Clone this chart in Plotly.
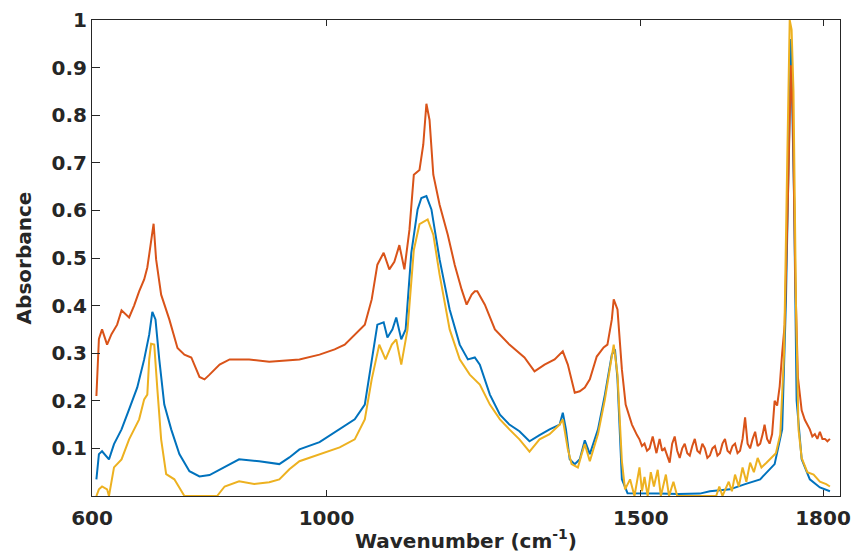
import plotly.graph_objects as go

# ---- data (wavenumber cm^-1, absorbance) ----
red_x = [634, 638, 643, 651, 658, 667, 674, 686, 694, 702, 710, 715, 718, 723, 725, 729, 737, 750, 763, 774,
         785, 798, 806, 814, 830, 846, 877, 909, 941, 957, 989, 1013, 1029, 1045, 1061, 1072, 1081, 1091, 1100,
         1108, 1116, 1124, 1132, 1139, 1148, 1154, 1159, 1164, 1170, 1180, 1193, 1204, 1215, 1223, 1231, 1236,
         1240, 1252, 1268, 1291, 1315, 1331, 1347, 1363, 1376, 1384, 1395, 1403, 1411, 1419, 1430, 1441, 1447,
         1454, 1457, 1463, 1470, 1476, 1486, 1494, 1498, 1502, 1506, 1510, 1514, 1519, 1525, 1530, 1534, 1538,
         1542, 1546, 1550, 1554, 1558, 1562, 1566, 1570, 1574, 1578, 1582, 1586, 1590, 1594, 1598, 1602, 1606,
         1610, 1614, 1618, 1622, 1626, 1630, 1634, 1638, 1642, 1646, 1650, 1654, 1658, 1662, 1666, 1670, 1674,
         1678, 1682, 1686, 1690, 1694, 1697, 1701, 1705, 1709, 1713, 1717, 1721, 1725, 1729, 1734, 1739, 1742,
         1746, 1750, 1756, 1761, 1765, 1769, 1773, 1777, 1781, 1785, 1789, 1793, 1797, 1801]
red_y = [0.21, 0.33, 0.35, 0.318, 0.34, 0.36, 0.39, 0.375, 0.40, 0.43, 0.455, 0.48, 0.507, 0.55, 0.572, 0.497,
         0.423, 0.371, 0.311, 0.297, 0.291, 0.25, 0.245, 0.255, 0.276, 0.287, 0.287, 0.282, 0.285, 0.287, 0.297,
         0.308, 0.318, 0.339, 0.36, 0.413, 0.486, 0.511, 0.476, 0.492, 0.527, 0.476, 0.559, 0.675, 0.685, 0.738,
         0.824, 0.79, 0.675, 0.612, 0.549, 0.486, 0.434, 0.402, 0.423, 0.43, 0.43, 0.402, 0.35, 0.318, 0.291,
         0.262, 0.276, 0.287, 0.304, 0.276, 0.217, 0.22, 0.228, 0.245, 0.293, 0.312, 0.318, 0.371, 0.413, 0.392,
         0.266, 0.192, 0.15, 0.128, 0.119, 0.105, 0.11, 0.095, 0.10, 0.125, 0.09, 0.12, 0.095, 0.10,
         0.085, 0.07, 0.11, 0.125, 0.095, 0.08, 0.10, 0.11, 0.09, 0.085, 0.105, 0.12, 0.095, 0.09, 0.11,
         0.10, 0.08, 0.085, 0.10, 0.105, 0.085, 0.09, 0.11, 0.12, 0.095, 0.09, 0.105, 0.11, 0.09, 0.095,
         0.12, 0.165, 0.11, 0.10, 0.12, 0.135, 0.105, 0.11, 0.13, 0.15, 0.12, 0.11, 0.13, 0.20, 0.19,
         0.23, 0.30, 0.36, 0.62, 0.905, 0.80, 0.45, 0.25, 0.18, 0.16, 0.15, 0.14, 0.125, 0.13, 0.12, 0.135,
         0.12, 0.12, 0.115, 0.12]

blue_x = [634, 638, 643, 654, 662, 674, 686, 699, 710, 718, 723, 728, 734, 742, 753, 766, 782, 798, 814, 838,
          861, 893, 925, 941, 957, 989, 1021, 1045, 1061, 1072, 1081, 1091, 1097, 1105, 1111, 1119, 1126, 1135,
          1145, 1151, 1159, 1167, 1180, 1196, 1212, 1225, 1236, 1244, 1260, 1276, 1291, 1307, 1323, 1339, 1355,
          1371, 1376, 1381, 1387, 1395, 1403, 1411, 1419, 1432, 1443, 1454, 1459, 1463, 1467, 1470, 1479, 1498,
          1530, 1560, 1594, 1610, 1642, 1666, 1690, 1713, 1725, 1731, 1736, 1739, 1744, 1748, 1756, 1769, 1785,
          1801]
blue_y = [0.035, 0.088, 0.094, 0.077, 0.109, 0.14, 0.182, 0.228, 0.287, 0.339, 0.387, 0.371, 0.287, 0.192,
          0.14, 0.088, 0.052, 0.041, 0.044, 0.06, 0.077, 0.073, 0.067, 0.081, 0.098, 0.113, 0.14, 0.161, 0.192,
          0.287, 0.36, 0.365, 0.333, 0.35, 0.375, 0.329, 0.35, 0.511, 0.602, 0.626, 0.63, 0.602, 0.497, 0.392,
          0.318, 0.287, 0.291, 0.276, 0.213, 0.171, 0.15, 0.136, 0.115, 0.128, 0.14, 0.15, 0.175, 0.14, 0.077,
          0.067, 0.077, 0.117, 0.088, 0.14, 0.213, 0.297, 0.308, 0.245, 0.119, 0.035, 0.006, 0.006, 0.005,
          0.004, 0.005, 0.01, 0.014, 0.025, 0.035, 0.067, 0.14, 0.41, 0.79, 0.96, 0.62, 0.2, 0.077, 0.035,
          0.018, 0.01]

yellow_x = [634, 638, 643, 651, 654, 662, 674, 686, 702, 710, 715, 718, 721, 726, 731, 737, 745, 758, 774, 826,
            838, 861, 885, 909, 925, 941, 957, 989, 1021, 1045, 1061, 1072, 1084, 1094, 1104, 1111, 1119, 1129,
            1139, 1148, 1161, 1170, 1180, 1196, 1212, 1228, 1244, 1260, 1276, 1291, 1307, 1323, 1339, 1355, 1371,
            1376, 1384, 1390, 1400, 1406, 1411, 1419, 1432, 1443, 1454, 1457, 1463, 1470, 1475, 1483, 1490, 1498,
            1502, 1506, 1511, 1516, 1521, 1527, 1532, 1540, 1545, 1552, 1558, 1570, 1600, 1620, 1625, 1630, 1640,
            1645, 1650, 1656, 1662, 1668, 1674, 1680, 1686, 1692, 1700, 1708, 1715, 1722, 1728, 1733, 1737, 1740,
            1743, 1747, 1751, 1756, 1765, 1775, 1785, 1795, 1801]
yellow_y = [0.0, 0.014, 0.02, 0.014, 0.0, 0.06, 0.077, 0.119, 0.161, 0.203, 0.213, 0.287, 0.32, 0.318, 0.224,
            0.119, 0.046, 0.035, 0.0, 0.0, 0.02, 0.031, 0.025, 0.029, 0.035, 0.056, 0.073, 0.087, 0.102, 0.119,
            0.161, 0.245, 0.318, 0.287, 0.318, 0.329, 0.276, 0.35, 0.517, 0.571, 0.581, 0.549, 0.465, 0.35,
            0.287, 0.255, 0.234, 0.192, 0.161, 0.14, 0.119, 0.093, 0.119, 0.13, 0.15, 0.161, 0.098, 0.067,
            0.06, 0.088, 0.109, 0.073, 0.13, 0.203, 0.287, 0.318, 0.255, 0.073, 0.014, 0.035, 0.0, 0.06, 0.01,
            0.04, 0.0, 0.05, 0.02, 0.055, 0.0, 0.045, 0.0, 0.03, 0.0, 0.0, 0.0, 0.0, 0.02, 0.0, 0.03, 0.01,
            0.045, 0.02, 0.06, 0.03, 0.07, 0.05, 0.08, 0.06, 0.07, 0.08, 0.09, 0.13, 0.30, 0.70, 1.0, 0.98,
            0.85, 0.4, 0.14, 0.08, 0.05, 0.045, 0.03, 0.025, 0.02]

x_tick_vals = [627, 1000, 1500, 1790]
x_tick_text = ["600", "1000", "1500", "1800"]
y_tick_vals = [0.1, 0.2, 0.3, 0.4, 0.5, 0.6, 0.7, 0.8, 0.9, 1.0]
y_tick_text = ["0.1", "0.2", "0.3", "0.4", "0.5", "0.6", "0.7", "0.8", "0.9", "1"]

TXT = "#262626"
FONT = "DejaVu Sans"
FS = 20

fig = go.Figure()
fig.add_trace(go.Scatter(x=blue_x, y=blue_y, mode="lines", line=dict(color="#0072BD", width=2), showlegend=False))
fig.add_trace(go.Scatter(x=red_x, y=red_y, mode="lines", line=dict(color="#D95319", width=2), showlegend=False))
fig.add_trace(go.Scatter(x=yellow_x, y=yellow_y, mode="lines", line=dict(color="#EDB120", width=2), showlegend=False))

fig.update_layout(
    width=855, height=554,
    margin=dict(l=92, r=15, t=20, b=58),
    plot_bgcolor="white", paper_bgcolor="white",
    font=dict(family=FONT, color=TXT),
    xaxis=dict(
        range=[627, 1817], tickvals=x_tick_vals, ticktext=x_tick_text, automargin=False,
        ticks="inside", ticklen=6, tickcolor=TXT, showgrid=False, zeroline=False,
        showline=True, linecolor=TXT, linewidth=1, mirror="ticks",
        ticklabelstandoff=4,
        tickfont=dict(family=FONT, size=FS, weight="bold", color=TXT),
        title=dict(text="Wavenumber (cm<sup>-1</sup>)", standoff=4,
                   font=dict(family=FONT, size=FS, weight="bold", color=TXT)),
    ),
    yaxis=dict(
        range=[0.0, 1.0], tickvals=y_tick_vals, ticktext=y_tick_text, automargin=False,
        ticks="inside", ticklen=8, tickcolor=TXT, showgrid=False, zeroline=False,
        showline=True, linecolor=TXT, linewidth=1, mirror=True,
        tickfont=dict(family=FONT, size=FS, weight="bold", color=TXT),
        title=dict(text="Absorbance", standoff=14,
                   font=dict(family=FONT, size=FS, weight="bold", color=TXT)),
    ),
)

fig.write_html("out.html")
